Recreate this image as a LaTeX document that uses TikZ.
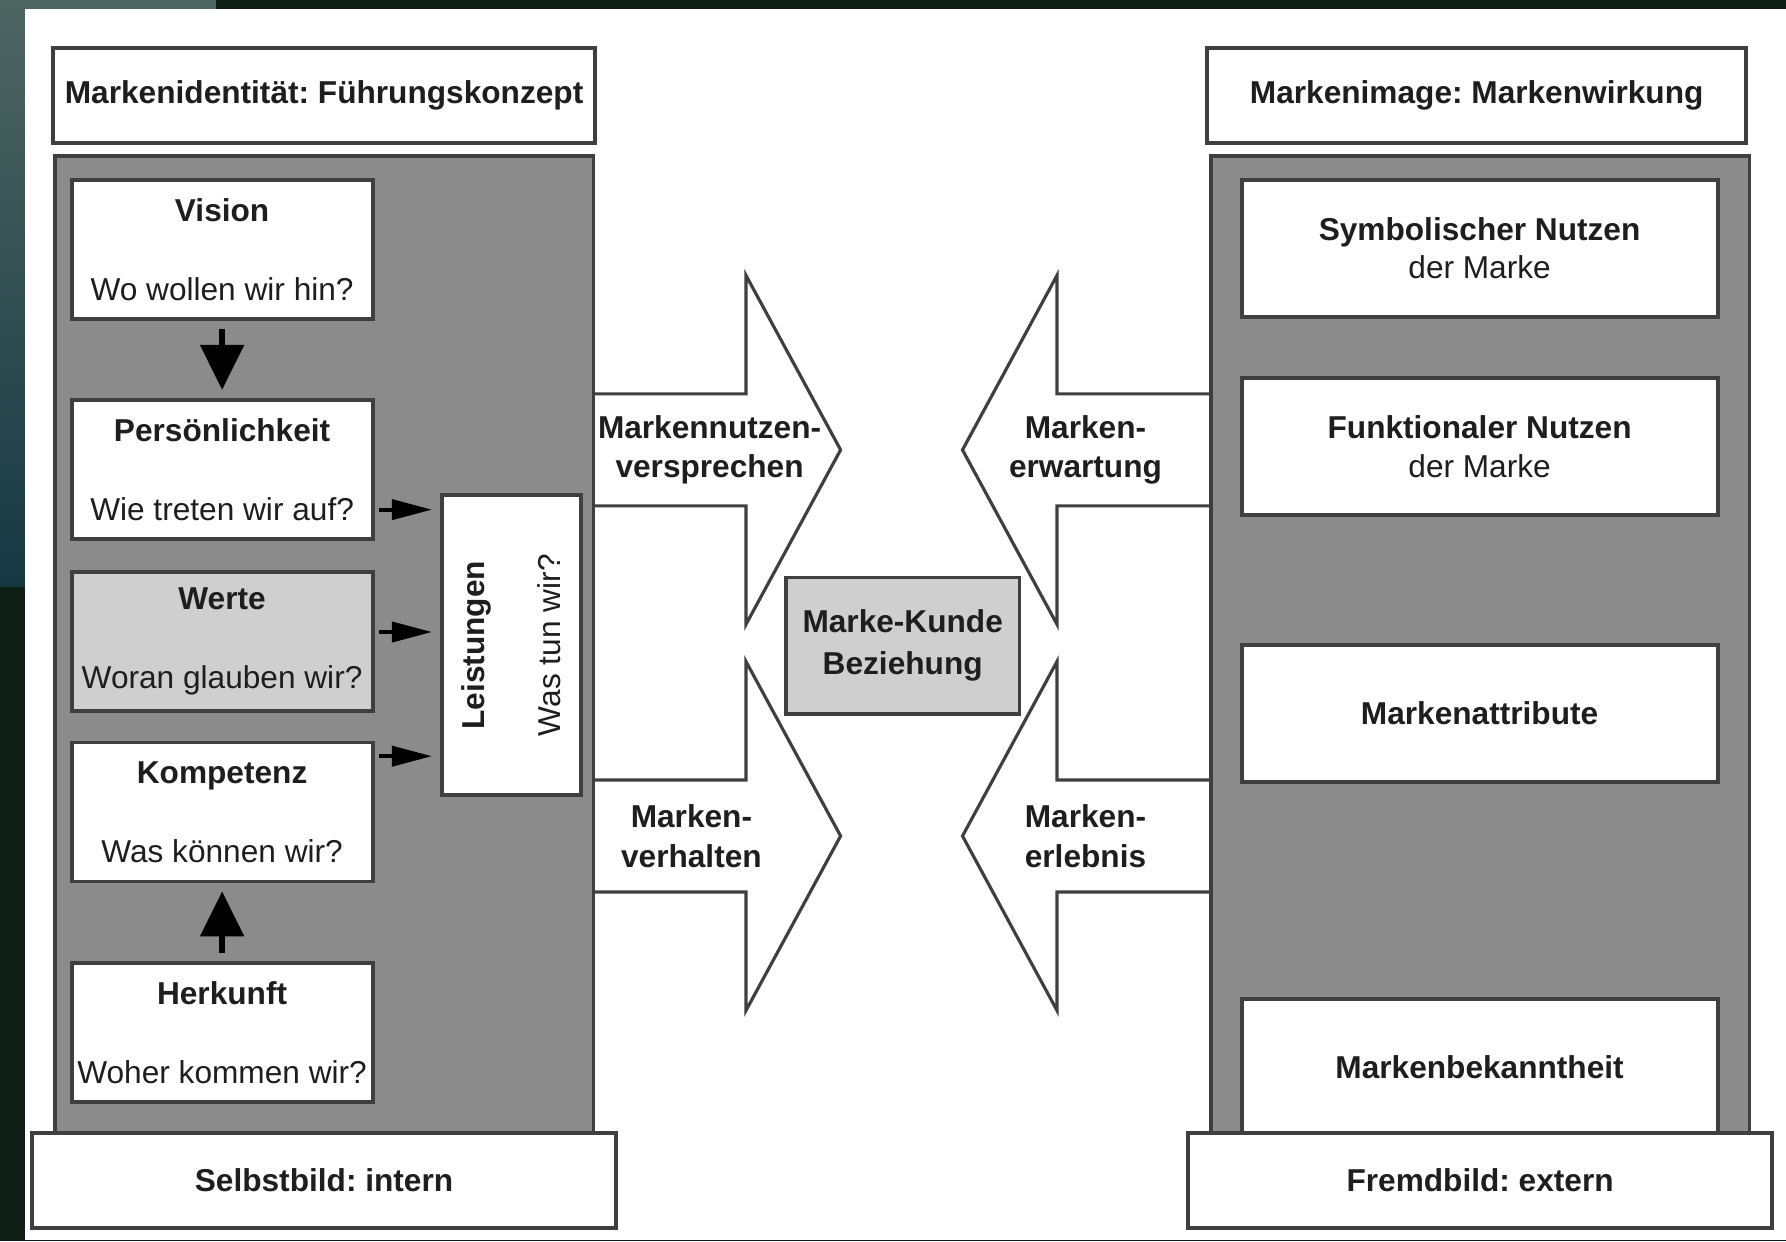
\documentclass[tikz,border=0pt]{standalone}
\usepackage{fontspec}
\setmainfont{Liberation Sans}
\usepackage{tikz}
\usetikzlibrary{arrows.meta,positioning}
\frenchspacing
\definecolor{Ink}{HTML}{3F3F3F}
\definecolor{Panel}{HTML}{8B8B8B}
\definecolor{Soft}{HTML}{CFCFCF}
\definecolor{Frame}{HTML}{0D1F15}
\definecolor{TealTop}{HTML}{4E6662}
\definecolor{TealLow}{HTML}{173843}
\definecolor{Type}{HTML}{1E1E1E}
\tikzset{
  panel/.style={draw=Ink,fill=Panel,line width=1.1pt},
  headbox/.style={draw=Ink,fill=white,line width=1.1pt,minimum width=5.39cm,minimum height=.95cm,font=\fontsize{9}{11}\selectfont\bfseries,text=Type},
  footbox/.style={headbox,minimum width=5.84cm},
  itembox/.style={draw=Ink,fill=white,line width=1.1pt,minimum width=3.01cm,minimum height=1.39cm,align=center,inner xsep=1pt,font=\fontsize{9}{11}\selectfont,text=Type},
  effectbox/.style={itembox,minimum width=4.76cm,minimum height=1.37cm},
  bigarrow/.style={draw=Ink,fill=white,line width=.9pt,line join=miter},
  arrowtext/.style={align=center,font=\fontsize{9}{11.3}\selectfont\bfseries,text=Type},
  push/.style={-{Triangle[length=4.5mm,width=4.3mm]},draw=black,line width=1.6pt,shorten <=.08cm,shorten >=.08cm},
  feed/.style={-{Triangle[length=4mm,width=2mm]},draw=black,line width=1.1pt,shorten <=.04cm,shorten >=.08cm}
}
\begin{document}
\begin{tikzpicture}
  \useasboundingbox (0,0) rectangle (17.86,12.415);
  \fill[Frame] (0,0) rectangle (17.86,12.415);
  \shade[top color=TealTop,bottom color=TealLow] (0,6.55) rectangle (.251,12.415);
  \fill[TealTop] (0,12.324) rectangle (2.164,12.415);
  \fill[white] (.251,.018) rectangle (17.86,12.324);

  \draw[bigarrow] (5.934,8.476) -- (7.46,8.476) -- (7.46,9.661) -- (8.406,7.916) -- (7.46,6.171) -- (7.46,7.356) -- (5.934,7.356);
  \draw[bigarrow] (5.934,4.615) -- (7.46,4.615) -- (7.46,5.8) -- (8.406,4.055) -- (7.46,2.31) -- (7.46,3.495) -- (5.934,3.495);
  \draw[bigarrow] (12.108,8.476) -- (10.57,8.476) -- (10.57,9.661) -- (9.625,7.916) -- (10.57,6.171) -- (10.57,7.356) -- (12.108,7.356);
  \draw[bigarrow] (12.108,4.615) -- (10.57,4.615) -- (10.57,5.8) -- (9.625,4.055) -- (10.57,2.31) -- (10.57,3.495) -- (12.108,3.495);

  \node[panel,minimum width=5.387cm,minimum height=9.773cm] (identity) at (3.241,5.969) {};
  \node[panel,minimum width=5.387cm,minimum height=9.773cm] (image) at (14.802,5.969) {};
  \node[headbox] (identhead) at (3.241,11.464) {Markenidentität: Führungskonzept};
  \node[headbox] (imagehead) at (14.767,11.464) {Markenimage: Markenwirkung};

  \node[itembox] (vision) at (2.221,9.921) {\textbf{Vision}\\[11.5pt]Wo wollen wir hin?};
  \node[itembox,below=.77cm of vision] (persona) {\textbf{Persönlichkeit}\\[11.5pt]Wie treten wir auf?};
  \node[itembox,fill=Soft,below=.29cm of persona] (values) {\textbf{Werte}\\[11.5pt]Woran glauben wir?};
  \node[itembox,below=.28cm of values] (skill) {\textbf{Kompetenz}\\[11.5pt]Was können wir?};
  \node[itembox,below=.78cm of skill] (origin) {\textbf{Herkunft}\\[11.5pt]Woher kommen wir?};
  \node[itembox,rotate=90,minimum width=2.996cm,minimum height=1.39cm] (output) at (5.114,5.963) {\textbf{Leistungen}\\[10.7pt]Was tun wir?};
  \draw[push] (vision) -- (persona);
  \draw[push] (origin) -- (skill);
  \draw[feed] ([yshift=-.404cm]persona.east) -- ([yshift=-.404cm]persona.east -| output.north);
  \draw[feed] ([yshift=.091cm]values.east) -- ([yshift=.091cm]values.east -| output.north);
  \draw[feed] ([yshift=.558cm]skill.east) -- ([yshift=.558cm]skill.east -| output.north);

  \node[effectbox] (symbolic) at (14.796,9.932) {\textbf{Symbolischer Nutzen}\\der Marke};
  \node[effectbox,below=.575cm of symbolic] (functional) {\textbf{Funktionaler Nutzen}\\der Marke};
  \node[effectbox,below=1.258cm of functional,font=\fontsize{9}{11}\selectfont\bfseries] (attributes) {Markenattribute};
  \node[effectbox,below=2.135cm of attributes,font=\fontsize{9}{11}\selectfont\bfseries] (awareness) {Markenbekanntheit};

  \node[itembox,fill=Soft,minimum width=2.335cm,minimum height=1.367cm,font=\fontsize{9}{12}\selectfont\bfseries] (bond) at (9.027,5.957) {Marke-Kunde\\Beziehung};
  \node[arrowtext] (promise) at (7.096,7.916) {Markennutzen-\\versprechen};
  \node[arrowtext] (conduct) at (6.914,4.055) {Marken-\\verhalten};
  \node[arrowtext] (expect) at (10.855,7.916) {Marken-\\erwartung};
  \node[arrowtext] (experience) at (10.855,4.055) {Marken-\\erlebnis};

  \node[footbox] (selfview) at (3.24,.609) {Selbstbild: intern};
  \node[footbox] (otherview) at (14.801,.609) {Fremdbild: extern};
\end{tikzpicture}
\end{document}
